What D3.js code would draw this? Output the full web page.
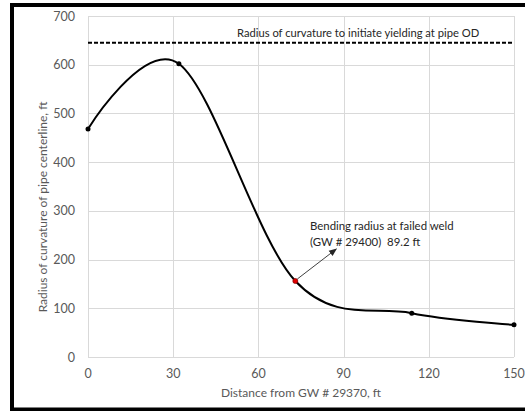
<!DOCTYPE html>
<html>
<head>
<meta charset="utf-8">
<script src="https://cdn.jsdelivr.net/npm/d3@7"></script>
<style>
body{margin:0;background:#fff;}
text{font-family:Lato,"Open Sans",sans-serif;}
</style>
</head>
<body>
<script>
const w=525
const h=411

// data
const distance=[0,32,73,114,150]
const radius=[468,602,156,90,66]
const failedIndex=2
const yieldRadius=645
const xTicks=[0,30,60,90,120,150]
const yTicks=[0,100,200,300,400,500,600,700]

const x=d3.scaleLinear()
    .domain([0,150])
    .range([88,514])

const y=d3.scaleLinear()
    .domain([0,700])
    .range([357,16])

const svg=d3.create("svg")
    .attr("width",w)
    .attr("height",h)

//outer frame
svg.append("path")
    .attr("d","M 530 5 L 12 5 L 12 409.5 L 530 409.5")
    .attr("fill","none")
    .attr("stroke","#000")
    .attr("stroke-width",4)

//grid
svg.append("g")
    .selectAll("line")
    .data(yTicks)
    .enter()
    .append("line")
    .attr("x1",x(0))
    .attr("x2",x(150))
    .attr("y1",d=>Math.round(y(d))+0.5)
    .attr("y2",d=>Math.round(y(d))+0.5)
    .attr("stroke","#d9d9d9")

svg.append("g")
    .selectAll("line")
    .data(xTicks)
    .enter()
    .append("line")
    .attr("y1",y(0))
    .attr("y2",y(700))
    .attr("x1",d=>Math.round(x(d))+0.5)
    .attr("x2",d=>Math.round(x(d))+0.5)
    .attr("stroke","#d9d9d9")

//tick labels
svg.append("g")
    .selectAll("text")
    .data(yTicks)
    .enter()
    .append("text")
    .attr("x",75)
    .attr("y",d=>y(d)+4.5)
    .attr("text-anchor","end")
    .attr("font-size",12.5)
    .attr("fill","#595959")
    .text(d=>d)

svg.append("g")
    .selectAll("text")
    .data(xTicks)
    .enter()
    .append("text")
    .attr("x",d=>x(d))
    .attr("y",377.5)
    .attr("text-anchor","middle")
    .attr("font-size",12.5)
    .attr("fill","#595959")
    .text(d=>d)

//axis titles
svg.append("text")
    .attr("x",301)
    .attr("y",397)
    .attr("text-anchor","middle")
    .attr("font-size",12)
    .attr("fill","#595959")
    .text("Distance from GW # 29370, ft")

svg.append("text")
    .attr("transform","translate(46.5,207) rotate(-90)")
    .attr("text-anchor","middle")
    .attr("font-size",12)
    .attr("fill","#595959")
    .text("Radius of curvature of pipe centerline, ft")

//yield line
svg.append("line")
    .attr("x1",x(0))
    .attr("x2",x(150))
    .attr("y1",y(yieldRadius))
    .attr("y2",y(yieldRadius))
    .attr("stroke","#000")
    .attr("stroke-width",2)
    .attr("stroke-dasharray","4,2")

svg.append("text")
    .attr("x",237)
    .attr("y",37)
    .attr("font-size",11.2)
    .attr("fill","#262626")
    .text("Radius of curvature to initiate yielding at pipe OD")

//curve
const pts=distance.map((d,i)=>[d,radius[i]])
const line=d3.line()
    .x(d=>x(d[0]))
    .y(d=>y(d[1]))
    .curve(d3.curveCardinal.tension(0))

svg.append("path")
    .datum(pts)
    .attr("d",line)
    .attr("fill","none")
    .attr("stroke","#000")
    .attr("stroke-width",2)

svg.append("g")
    .selectAll("circle")
    .data(pts)
    .enter()
    .append("circle")
    .attr("cx",d=>x(d[0]))
    .attr("cy",d=>y(d[1]))
    .attr("r",2.5)
    .attr("fill",(d,i)=>i==failedIndex?"#e00000":"#000")
    .attr("stroke",(d,i)=>i==failedIndex?"#800000":"none")
    .attr("stroke-width",0.7)

//annotation arrow
svg.append("defs").append("marker")
    .attr("id","arr")
    .attr("viewBox","0 0 10 10")
    .attr("refX",9)
    .attr("refY",5)
    .attr("markerWidth",8)
    .attr("markerHeight",8)
    .attr("orient","auto")
    .append("path")
    .attr("d","M0,1 L10,5 L0,9 Z")
    .attr("fill","#262626")

const fx=x(distance[failedIndex])
const fy=y(radius[failedIndex])
svg.append("line")
    .attr("x1",fx+2)
    .attr("y1",fy-2)
    .attr("x2",fx+41)
    .attr("y2",fy-32)
    .attr("stroke","#404040")
    .attr("stroke-width",1)
    .attr("marker-end","url(#arr)")

svg.append("text")
    .attr("x",310)
    .attr("y",230)
    .attr("font-size",11.4)
    .attr("fill","#262626")
    .text("Bending radius at failed weld")

svg.append("text")
    .attr("x",310)
    .attr("y",246)
    .attr("font-size",11.4)
    .attr("fill","#262626")
    .style("white-space","pre")
    .text("(GW # 29400)  89.2 ft")

d3.select("body")
    .append(()=>svg.node())
</script>
</body>
</html>
